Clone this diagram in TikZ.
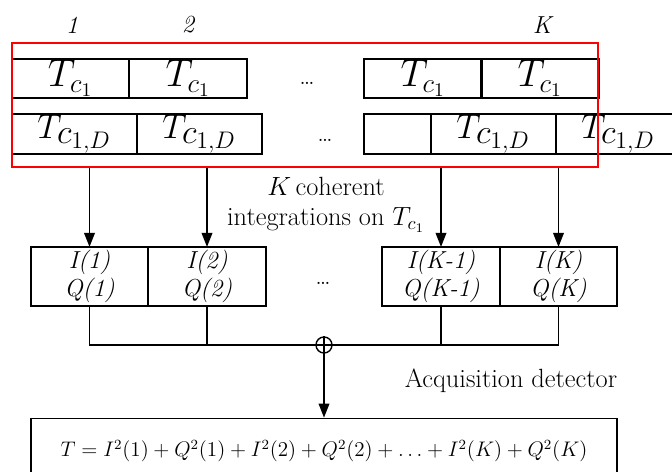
\documentclass[tikz,border=0pt]{standalone}
\usepackage{fix-cm}
\usepackage{fontspec}
\usetikzlibrary{arrows.meta,positioning,fit}
\begin{document}
\begin{tikzpicture}[x=0.02cm, y=-0.02cm,
    cell/.style={rectangle, draw=black, line width=0.9pt, inner sep=0pt, outer sep=0pt,
      minimum width=2.35cm, minimum height=0.78cm, font=\fontsize{22}{24}\selectfont},
    dcell/.style={cell, minimum width=2.5cm, minimum height=0.8cm, font=\fontsize{19.5}{22}\selectfont},
    iqcell/.style={rectangle, draw=black, line width=0.9pt, inner sep=0pt, outer sep=0pt,
      minimum width=2.35cm, minimum height=1.18cm, align=center,
      font=\fontsize{14}{16}\selectfont\itshape},
    idx/.style={font=\fontsize{14}{16}\selectfont\itshape},
    lbl/.style={font=\fontsize{15}{17}\selectfont, align=center},
    flow/.style={-{Triangle[length=8pt,width=6pt]}, line width=1pt},
    wire/.style={line width=0.6pt}
  ]
    \useasboundingbox (0,0) rectangle (672,472);
    \clip (0,0) rectangle (672,472);

    % Chip periods T_c1
    \node[cell] (a1) at (70.5,78.5) {$T_{c_1}$};
    \node[cell] (a2) at (188,78.5)  {$T_{c_1}$};
    \node[cell] (a3) at (423,78.5)  {$T_{c_1}$};
    \node[cell] (a4) at (540,78.5)  {$T_{c_1}$};
    \node[lbl]  (ad) at (307,83)    {\dots};

    \node[idx] (n1) at (72,25)  {1};
    \node[idx] (n2) at (188,25) {2};
    \node[idx] (nK) at (542,25) {K};

    % Doppler shifted periods T_c1,D
    \node[dcell] (b1) at (74.5,134)  {$T_{\textstyle c_{1,D}}$};
    \node[dcell] (b2) at (199.5,134) {$T_{\textstyle c_{1,D}}$};
    \node[dcell, minimum width=1.34cm] (b3) at (397.5,134) {};
    \node[dcell] (b4) at (493.5,134) {$T_{\textstyle c_{1,D}}$};
    \node[dcell] (b5) at (618.5,134) {$T_{\textstyle c_{1,D}}$};
    \node[lbl]   (bd) at (325,140)   {\dots};

    \node[draw=red, line width=1.2pt, inner sep=0pt, fit={(12,43) (598,167)}] (frame) {};

    % Coherent integrations
    \node[iqcell] (q1) at (89.5,276.5) {I(1)\\Q(1)};
    \node[iqcell] (q2) at (207,276.5)  {I(2)\\Q(2)};
    \node[iqcell] (q3) at (441,276.5)  {I(K-1)\\Q(K-1)};
    \node[iqcell] (q4) at (558.5,276.5) {I(K)\\Q(K)};
    \node[lbl]    (qd) at (323,283)    {\dots};

    \foreach \q in {q1,q2,q3,q4}
      \draw[flow] (frame.south -| \q.north) -- (\q.north);

    \node[lbl] (coh) at (326,205) {$K$\,coherent\\integrations on $T_{c_1}$};

    % Non-coherent sum
    \node[circle, draw, line width=0.8pt, minimum size=0.32cm, inner sep=0pt] (sum) at (324,345) {};
    \draw[line width=0.8pt] (sum.north) -- (sum.south) (sum.west) -- (sum.east);

    \draw[wire] (q1.south) |- (sum.west);
    \draw[wire] (q4.south) |- (sum.east);
    \draw[wire] (q2.south) -- (q2.south |- sum.center);
    \draw[wire] (q3.south) -- (q3.south |- sum.center);

    \node[lbl] (acq) at (511,381) {Acquisition detector};

    \node[rectangle, draw, line width=0.9pt, inner sep=0pt, minimum width=11.72cm, minimum height=1.3cm,
      font=\fontsize{12}{14}\selectfont] (det) at (324,451)
      {$T = I^2(1) + Q^2(1) + I^2(2) + Q^2(2) + \ldots + I^2(K) + Q^2(K)$};

    \draw[flow] (sum.south) -- (det.north);
  \end{tikzpicture}
\end{document}
